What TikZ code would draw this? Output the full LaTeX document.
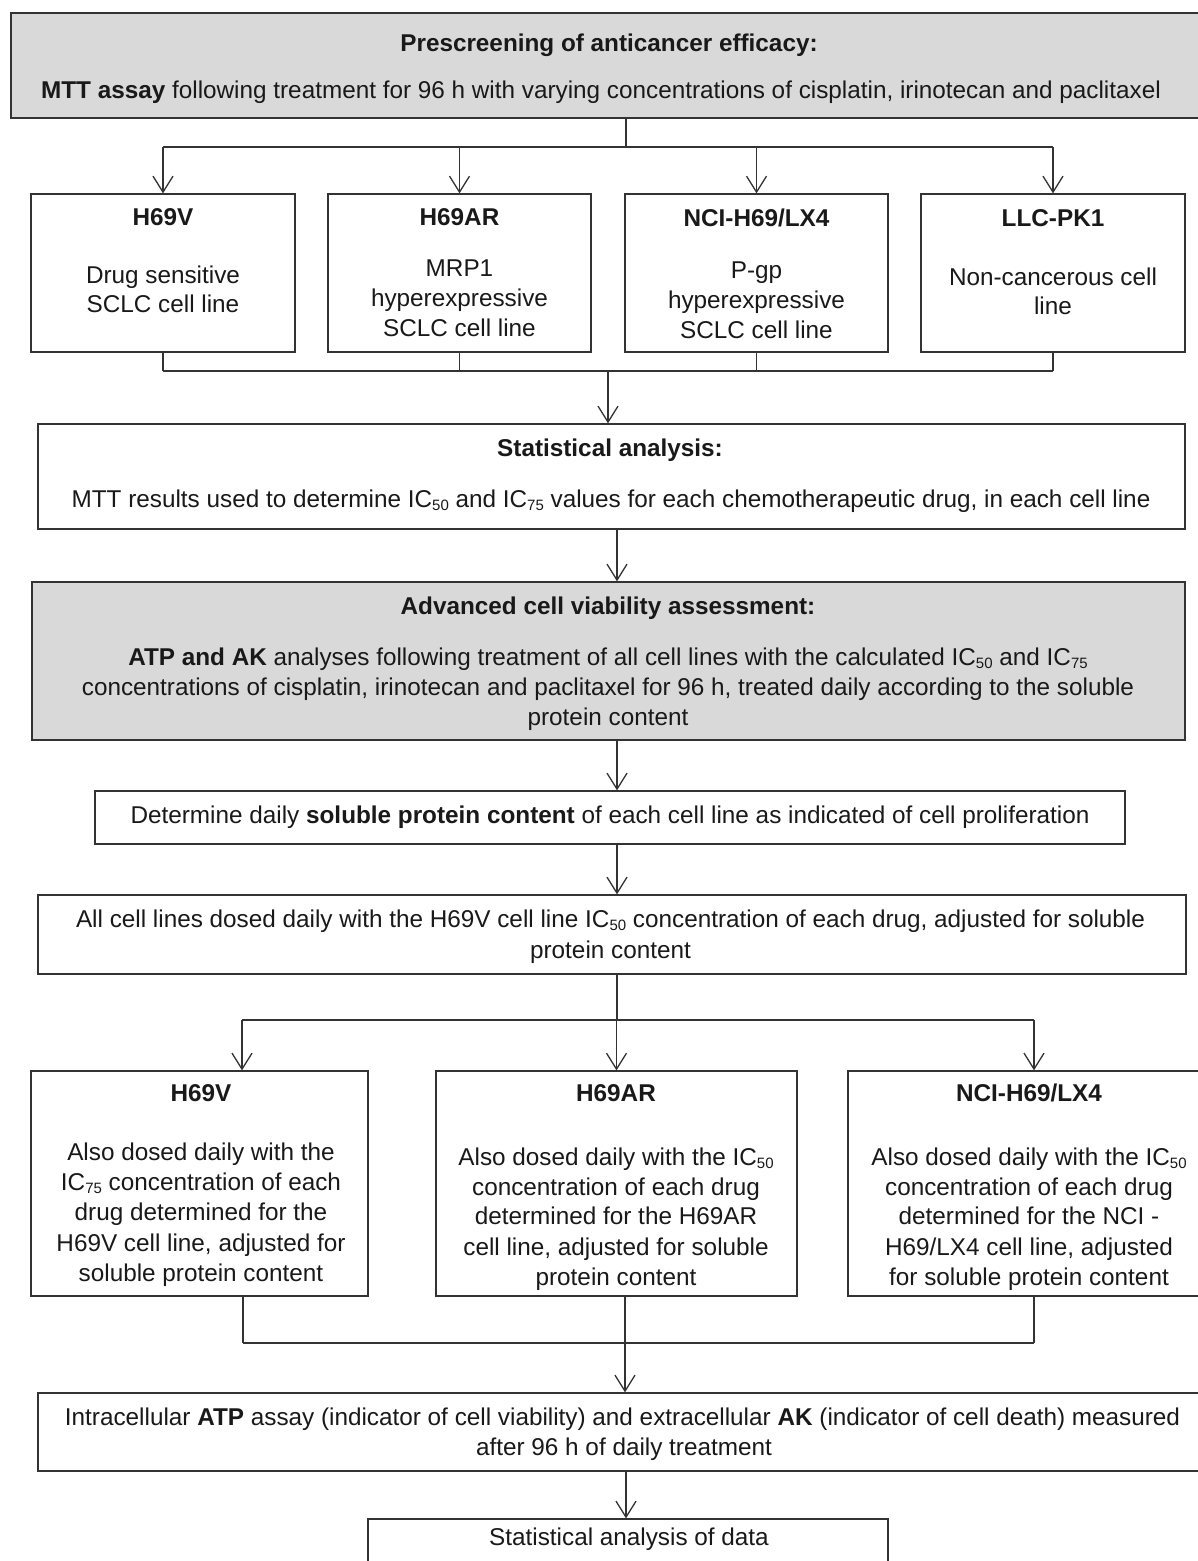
\documentclass[tikz,border=0pt]{standalone}
\usepackage{fontspec}
\setmainfont{Liberation Sans}
\usetikzlibrary{arrows.meta}
\newcommand\icsub[1]{\raisebox{-0.12em}{\fontsize{15}{15}\selectfont #1}}
\definecolor{boxgray}{HTML}{D9D9D9}
\definecolor{linecol}{HTML}{333333}
\begin{document}
\begin{tikzpicture}[x=1pt,y=-1pt,
  line width=1.3pt, draw=linecol,
  box/.style={draw=linecol, line width=1.3pt, inner sep=0pt},
  graybox/.style={box, fill=boxgray},
  txt/.style={inner sep=0pt, text height=17pt, text depth=0pt, anchor=center,
    font=\fontsize{24.3}{30}\selectfont, text=black!90},
  btxt/.style={txt, font=\fontsize{24.3}{30}\selectfont\bfseries},
  arr/.style={-{Straight Barb[length=16pt,width=20pt]}}]
\useasboundingbox (0,0) rectangle (1198,1561);
\clip (0,0) rectangle (1198,1561);
\fill[white] (0,0) rectangle (1198,1561);

% boxes
\node[graybox, minimum width=1201pt, minimum height=105pt] (top) at (611.5,65.5) {};
\node[box, minimum width=264pt, minimum height=158pt] (b1) at (163,273) {};
\node[box, minimum width=263pt, minimum height=158pt] (b2) at (459.5,273) {};
\node[box, minimum width=263pt, minimum height=158pt] (b3) at (756.5,273) {};
\node[box, minimum width=264pt, minimum height=158pt] (b4) at (1053,273) {};
\node[box, minimum width=1147pt, minimum height=105pt] (stat) at (611.5,476.5) {};
\node[graybox, minimum width=1153pt, minimum height=158pt] (adv) at (608.5,661) {};
\node[box, minimum width=1030pt, minimum height=53pt] (det) at (610,817.5) {};
\node[box, minimum width=1148pt, minimum height=79pt] (all) at (612,934.5) {};
\node[box, minimum width=337pt, minimum height=225pt] (l1) at (199.5,1183.5) {};
\node[box, minimum width=361pt, minimum height=225pt] (l2) at (616.5,1183.5) {};
\node[box, minimum width=364pt, minimum height=225pt] (l3) at (1030,1183.5) {};
\node[box, minimum width=1168pt, minimum height=78pt] (intra) at (622,1432) {};
\node[box, minimum width=520pt, minimum height=81pt] (fin) at (628,1559.5) {};

% texts: top
\node[btxt] (t0a) at (609,43) {Prescreening of anticancer efficacy:};
\node[txt] (t0b) at (601,90) {\textbf{MTT assay} following treatment for 96 h with varying concentrations of cisplatin, irinotecan and paclitaxel};
% four boxes
\node[btxt] (t1a) at (163,217) {H69V};
\node[txt] (t1b) at (163,275) {Drug sensitive};
\node[txt] (t1c) at (163,304) {SCLC cell line};
\node[btxt] (t2a) at (459.5,217) {H69AR};
\node[txt] (t2b) at (459.5,268) {MRP1};
\node[txt] (t2c) at (459.5,298) {hyperexpressive};
\node[txt] (t2d) at (459.5,328) {SCLC cell line};
\node[btxt] (t3a) at (756.5,218) {NCI-H69/LX4};
\node[txt] (t3b) at (756.5,270) {P-gp};
\node[txt] (t3c) at (756.5,300) {hyperexpressive};
\node[txt] (t3d) at (756.5,330) {SCLC cell line};
\node[btxt] (t4a) at (1053,218) {LLC-PK1};
\node[txt] (t4b) at (1053,277) {Non-cancerous cell};
\node[txt] (t4c) at (1053,306) {line};
% statistical analysis
\node[btxt] (t5a) at (610,448) {Statistical analysis:};
\node[txt] (t5b) at (611,499) {MTT results used to determine IC\icsub{50} and IC\icsub{75} values for each chemotherapeutic drug, in each cell line};
% advanced
\node[btxt] (t6a) at (608,606) {Advanced cell viability assessment:};
\node[txt] (t6b) at (608,657) {\textbf{ATP and AK} analyses following treatment of all cell lines with the calculated IC\icsub{50} and IC\icsub{75}};
\node[txt] (t6c) at (608,687) {concentrations of cisplatin, irinotecan and paclitaxel for 96 h, treated daily according to the soluble};
\node[txt] (t6d) at (608,717) {protein content};
% determine
\node[txt] (t7) at (610,815) {Determine daily \textbf{soluble protein content} of each cell line as indicated of cell proliferation};
% all cell lines
\node[txt] (t8a) at (610.5,919) {All cell lines dosed daily with the H69V cell line IC\icsub{50} concentration of each drug, adjusted for soluble};
\node[txt] (t8b) at (610.5,950) {protein content};
% lower boxes
\node[btxt] (t9a) at (201,1093) {H69V};
\node[txt] (t9b) at (201,1152) {Also dosed daily with the};
\node[txt] (t9c) at (201,1182) {IC\icsub{75} concentration of each};
\node[txt] (t9d) at (201,1212) {drug determined for the};
\node[txt] (t9e) at (201,1243) {H69V cell line, adjusted for};
\node[txt] (t9f) at (201,1273) {soluble protein content};
\node[btxt] (t10a) at (616,1093) {H69AR};
\node[txt] (t10b) at (616,1157) {Also dosed daily with the IC\icsub{50}};
\node[txt] (t10c) at (616,1187) {concentration of each drug};
\node[txt] (t10d) at (616,1216) {determined for the H69AR};
\node[txt] (t10e) at (616,1247) {cell line, adjusted for soluble};
\node[txt] (t10f) at (616,1277) {protein content};
\node[btxt] (t11a) at (1029,1093) {NCI-H69/LX4};
\node[txt] (t11b) at (1029,1157) {Also dosed daily with the IC\icsub{50}};
\node[txt] (t11c) at (1029,1187) {concentration of each drug};
\node[txt] (t11d) at (1029,1216) {determined for the NCI -};
\node[txt] (t11e) at (1029,1247) {H69/LX4 cell line, adjusted};
\node[txt] (t11f) at (1029,1277) {for soluble protein content};
% intracellular
\node[txt] (t12a) at (622.5,1417) {Intracellular \textbf{ATP} assay (indicator of cell viability) and extracellular \textbf{AK} (indicator of cell death) measured};
\node[txt] (t12b) at (624,1447) {after 96 h of daily treatment};
% final
\node[txt] (t13) at (629,1537) {Statistical analysis of data};

% connectors
\coordinate (j1) at (626,147);
\draw (j1 |- top.south) -- (j1);
\draw (b1.north |- j1) -- (b4.north |- j1);
\foreach \b in {b1,b2,b3,b4} \draw[arr] (\b.north |- j1) -- (\b.north);

\coordinate (j2) at (608,371);
\foreach \b in {b1,b2,b3,b4} \draw (\b.south) -- (\b.south |- j2);
\draw (b1.south |- j2) -- (b4.south |- j2);
\draw[arr] (j2) -- (j2 |- stat.north);

\coordinate (j3) at (617,0);
\draw[arr] (j3 |- stat.south) -- (j3 |- adv.north);
\draw[arr] (j3 |- adv.south) -- (j3 |- det.north);
\draw[arr] (j3 |- det.south) -- (j3 |- all.north);

\coordinate (j6) at (617,1020);
\coordinate (p1) at (242,1020);
\coordinate (p2) at (616.5,1020);
\coordinate (p3) at (1034,1020);
\draw (j6 |- all.south) -- (j6);
\draw (p1) -- (p3);
\draw[arr] (p1) -- (p1 |- l1.north);
\draw[arr] (p2) -- (p2 |- l2.north);
\draw[arr] (p3) -- (p3 |- l3.north);

\coordinate (q1) at (243,1343);
\coordinate (q2) at (625,1343);
\coordinate (q3) at (1034,1343);
\draw (q1 |- l1.south) -- (q1);
\draw (q2 |- l2.south) -- (q2);
\draw (q3 |- l3.south) -- (q3);
\draw (q1) -- (q3);
\draw[arr] (q2) -- (q2 |- intra.north);

\coordinate (q4) at (626,0);
\draw[arr] (q4 |- intra.south) -- (q4 |- fin.north);
\end{tikzpicture}
\end{document}
